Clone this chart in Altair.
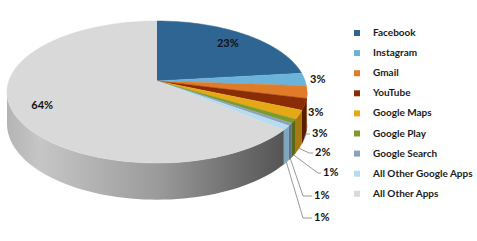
import altair as alt
import pandas as pd

# ---------------- data ----------------
apps = ["Facebook", "Instagram", "Gmail", "YouTube", "Google Maps",
        "Google Play", "Google Search", "All Other Google Apps", "All Other Apps"]
shares = [23.2, 2.9, 2.8, 2.6, 2.0, 0.9, 0.6, 1.0, 64.0]

# ---------------- style ----------------
top_colors = ["#2e6593", "#6cb3d9", "#e07b27", "#8a2c06", "#e6a817",
              "#7d9a2c", "#8aa2ba", "#b7dbf0", "#d9d9d9"]
side_colors = ["#1f4666", "#4a8aab", "#a3561a", "#5a1c04", "#a8790f",
               "#55691d", "#5f7285", "#7fa6bf", "#9a9a9a"]

# layout of the outside labels (left x, centre y, leader elbow x); None = label inside slice
label_left = [None, 310, 308, 312, 315, 323, 314, 314, None]
label_mid_y = [None, 80, 113, 134, 153, 173, 196, 218, None]
leader_elbow = [None, None, None, 306, 309, 318, 303, 303, None]

df = pd.DataFrame({"app": apps, "share": shares, "i": list(range(len(apps))),
                   "lx": label_left, "ly": label_mid_y, "ex": leader_elbow})

# projected (perspective) pie geometry
CX, CY, A, B, K, D = 157, 81, 148.2, 69.3, 0.155, 31
N = 60
R_IN = 0.8

W, H = 477, 241
xs = alt.Scale(domain=[0, W], nice=False, zero=False)
ys = alt.Scale(domain=[0, H], nice=False, zero=False, reverse=True)
X = alt.X("px:Q", scale=xs, axis=None)
Y = alt.Y("py:Q", scale=ys, axis=None)

base = (alt.Chart(df)
        .transform_joinaggregate(total="sum(share)")
        .transform_window(cum="sum(share)", sort=[alt.SortField("i")], frame=[None, 0])
        .transform_calculate(t0="2*PI*(datum.cum-datum.share)/datum.total",
                             t1="2*PI*datum.cum/datum.total"))

# top faces
top = (base
       .transform_calculate(k=f"sequence(0,{N + 2})")
       .transform_flatten(["k"])
       .transform_calculate(th=f"datum.t0+(datum.t1-datum.t0)*(datum.k-1)/{N}")
       .transform_calculate(den=f"1+{K}*cos(datum.th)")
       .transform_calculate(px=f"datum.k==0 ? {CX} : {CX}+{A}*sin(datum.th)/datum.den",
                            py=f"datum.k==0 ? {CY} : {CY}-{B}*cos(datum.th)/datum.den")
       .mark_line(filled=True, strokeWidth=0.5)
       .encode(x=X, y=Y, order=alt.Order("k:Q"),
               fill=alt.Fill("app:N", scale=alt.Scale(domain=apps, range=top_colors), sort=apps,
                             legend=alt.Legend(title=None, orient="none", legendX=352, legendY=28,
                                               symbolType="square", symbolSize=36,
                                               symbolStrokeWidth=0, labelFont="Lato",
                                               labelFontSize=10, labelFontWeight="bold",
                                               labelColor="#1a1a1a", rowPadding=10.1,
                                               labelOffset=11, labelLimit=220)),
               stroke=alt.Stroke("app:N", scale=alt.Scale(domain=apps, range=top_colors),
                                 legend=None)))

# side walls (front half only)
side_base = (base
             .transform_calculate(lo=f"max(datum.t0, acos(-{K}))",
                                  hi=f"min(datum.t1, 2*PI-acos(-{K}))")
             .transform_filter("datum.lo < datum.hi")
             .transform_calculate(k=f"sequence(0,{2 * N + 2})")
             .transform_flatten(["k"])
             .transform_calculate(
                 th=f"datum.k<={N} ? datum.lo+(datum.hi-datum.lo)*datum.k/{N} : datum.hi-(datum.hi-datum.lo)*(datum.k-{N}-1)/{N}")
             .transform_calculate(den=f"1+{K}*cos(datum.th)")
             .transform_calculate(px=f"{CX}+{A}*sin(datum.th)/datum.den",
                                  py=f"{CY}-{B}*cos(datum.th)/datum.den + (datum.k>{N} ? {D}/datum.den : 0)"))

side = (side_base.transform_filter(f"datum.app != '{apps[-1]}'")
        .mark_line(filled=True, strokeWidth=0.5)
        .encode(x=X, y=Y, order=alt.Order("k:Q"),
                fill=alt.Fill("app:N", scale=alt.Scale(domain=apps, range=side_colors), legend=None),
                stroke=alt.Stroke("app:N", scale=alt.Scale(domain=apps, range=side_colors), legend=None)))

grad = alt.Gradient(gradient="linear", x1=0, x2=1, y1=0, y2=0,
                    stops=[alt.GradientStop(color="#b4b4b4", offset=0),
                           alt.GradientStop(color="#c6c6c6", offset=0.12),
                           alt.GradientStop(color="#9a9a9a", offset=0.55),
                           alt.GradientStop(color="#6a6a6a", offset=0.85),
                           alt.GradientStop(color="#555555", offset=1)])
side_big = (side_base.transform_filter(f"datum.app == '{apps[-1]}'")
            .mark_line(filled=True, fill=grad, strokeWidth=0)
            .encode(x=X, y=Y, order=alt.Order("k:Q")))

# leader lines
leaders = (base.transform_filter("isValid(datum.ex)")
           .transform_calculate(k="sequence(0,3)")
           .transform_flatten(["k"])
           .transform_calculate(th="(datum.t0+datum.t1)/2")
           .transform_calculate(den=f"1+{K}*cos(datum.th)")
           .transform_calculate(
               px=f"datum.k==0 ? {CX}+{A}*sin(datum.th)/datum.den : (datum.k==1 ? datum.ex : datum.lx-2)",
               py=f"datum.k==0 ? {CY}-{B}*cos(datum.th)/datum.den+{D}/datum.den : datum.ly")
           .mark_line(color="#7f7f7f", strokeWidth=0.8)
           .encode(x=X, y=Y, order=alt.Order("k:Q"), detail="app:N"))

lab_expr = "format(datum.share, '.0f') + '%'"
out_labels = (base.transform_filter("isValid(datum.lx)")
              .transform_calculate(lab=lab_expr, px="datum.lx", py="datum.ly")
              .mark_text(align="left", baseline="middle", font="Lato", fontSize=11,
                         fontWeight="bold", color="#111111")
              .encode(x=X, y=Y, text="lab:N"))

in_labels = (base.transform_filter("!isValid(datum.lx)")
             .transform_calculate(lab=lab_expr, th="(datum.t0+datum.t1)/2")
             .transform_calculate(den=f"1+{K}*cos(datum.th)")
             .transform_calculate(px=f"{CX}+{R_IN}*{A}*sin(datum.th)/datum.den",
                                  py=f"{CY}-{R_IN}*{B}*cos(datum.th)/datum.den")
             .mark_text(align="center", baseline="middle", font="Lato", fontSize=11,
                        fontWeight="bold", color="#111111")
             .encode(x=X, y=Y, text="lab:N"))

chart = (alt.layer(side, side_big, top, leaders, out_labels, in_labels)
         .resolve_scale(fill="independent", stroke="independent")
         .properties(width=W, height=H, padding=0,
                     autosize=alt.AutoSizeParams(type="none"), background="white")
         .configure_view(stroke=None))

chart.save("out.html", embed_options={"renderer": "svg", "actions": False})
